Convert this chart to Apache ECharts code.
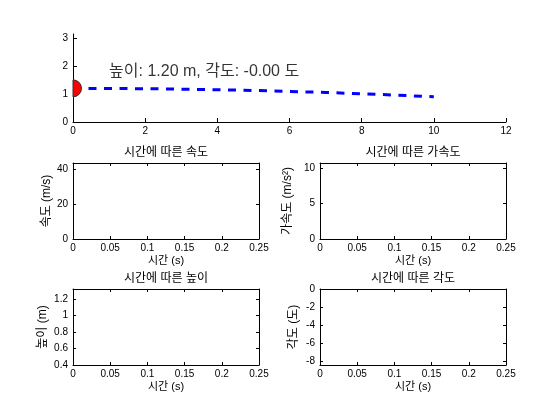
<!DOCTYPE html>
<html>
<head>
<meta charset="utf-8">
<script src="https://cdn.jsdelivr.net/npm/echarts@6/dist/echarts.min.js"></script>
<style>html,body{margin:0;padding:0;background:#fff;}#c{width:560px;height:420px;}</style>
</head>
<body>
<div id="c"></div>
<script>
// ---- data ----
const trajX = [0, 1, 2, 3, 4, 5, 6, 7, 8, 9, 10];
const trajY = [1.20, 1.197, 1.188, 1.173, 1.152, 1.125, 1.092, 1.053, 1.008, 0.957, 0.90];
const ballPos = [0, 1.2];
const infoPos = [1, 1.8];
const heightVal = 1.20;
const angleVal = -0.001;

const topXTicks = [0, 2, 4, 6, 8, 10, 12];
const topYTicks = [0, 1, 2, 3];
const timeTicks = [0, 0.05, 0.1, 0.15, 0.2, 0.25];
const speedTicks = [0, 20, 40];
const accelTicks = [0, 5, 10];
const heightTicks = [0.4, 0.6, 0.8, 1, 1.2];
const angleTicks = [-8, -6, -4, -2, 0];

const titles = ['시간에 따른 속도', '시간에 따른 가속도', '시간에 따른 높이', '시간에 따른 각도'];
const yNames = ['속도 (m/s)', '가속도 (m/s²)', '높이 (m)', '각도 (도)'];
const xName = '시간 (s)';

// ---- layout / style ----
const FONT = "'Liberation Sans', Arial, 'Noto Sans CJK KR', sans-serif";
const grids = [
  {left: 73, top: 34, width: 433, height: 88},
  {left: 73, top: 163, width: 186, height: 76},
  {left: 320, top: 163, width: 186, height: 76},
  {left: 73, top: 289, width: 186, height: 76},
  {left: 320, top: 289, width: 186, height: 76}
];

function axis(dim, g, pos, min, max, ticks, showLabel, name, gap, tickLen) {
  return {
    type: 'value', gridIndex: g, position: pos, min: min, max: max,
    axisLine: {show: true, onZero: false, lineStyle: {color: '#000', width: 1}},
    axisTick: {show: true, inside: true, length: tickLen, customValues: ticks, lineStyle: {color: '#000', width: 1}},
    axisLabel: {show: showLabel, customValues: ticks, margin: dim === 'x' ? 4 : 5, color: '#000', fontSize: 10, fontFamily: FONT},
    splitLine: {show: false},
    name: name || '', nameLocation: 'middle', nameGap: gap || 0,
    nameTextStyle: {color: '#000', fontSize: dim === 'x' ? 11 : 12, fontFamily: FONT}
  };
}

const xAxes = [], yAxes = [];
// top plot (no box)
xAxes.push(axis('x', 0, 'bottom', 0, 12, topXTicks, true, '', 0, 4));
yAxes.push(axis('y', 0, 'left', 0, 3.14, topYTicks, true, '', 0, 4));

const sub = [
  {g: 1, ymin: 0, ymax: 43.8, yt: speedTicks, gap: 20},
  {g: 2, ymin: 0, ymax: 10.7, yt: accelTicks, gap: 26},
  {g: 3, ymin: 0.4, ymax: 1.32, yt: heightTicks, gap: 24},
  {g: 4, ymin: -8.4, ymax: 0, yt: angleTicks, gap: 20}
];
sub.forEach((s, i) => {
  xAxes.push(axis('x', s.g, 'bottom', 0, 0.25, timeTicks, true, xName, 16, 3));
  xAxes.push(axis('x', s.g, 'top', 0, 0.25, timeTicks, false, '', 0, 3));
  yAxes.push(axis('y', s.g, 'left', s.ymin, s.ymax, s.yt, true, yNames[i], s.gap, 3));
  yAxes.push(axis('y', s.g, 'right', s.ymin, s.ymax, s.yt, false, '', 0, 3));
});

const titleOpts = sub.map((s, i) => ({
  text: titles[i],
  left: grids[s.g].left + grids[s.g].width / 2,
  top: grids[s.g].top - 16,
  textAlign: 'center',
  padding: 0,
  textStyle: {fontSize: 12, fontWeight: 'normal', color: '#000', fontFamily: FONT}
}));

const chart = echarts.init(document.getElementById('c'), null, {renderer: 'canvas'});
chart.setOption({
  animation: false,
  backgroundColor: '#fff',
  title: titleOpts,
  grid: grids,
  xAxis: xAxes,
  yAxis: yAxes,
  series: [
    {
      type: 'line', xAxisIndex: 0, yAxisIndex: 0,
      data: trajX.map((x, i) => [x, trajY[i]]),
      showSymbol: false, symbol: 'none',
      lineStyle: {color: '#0000ff', width: 3, type: [8, 7.5]},
      z: 2
    },
    {
      type: 'custom', xAxisIndex: 0, yAxisIndex: 0, clip: false, z: 3,
      data: [ballPos],
      renderItem: function (params, api) {
        const p = api.coord([api.value(0), api.value(1)]);
        return {
          type: 'sector',
          shape: {cx: p[0], cy: p[1], r0: 0, r: 8.5, startAngle: -Math.PI / 2, endAngle: Math.PI / 2, clockwise: true},
          style: {fill: '#ff0000', stroke: '#333', lineWidth: 1}
        };
      }
    },
    {
      type: 'scatter', xAxisIndex: 0, yAxisIndex: 0, symbolSize: 0, z: 4,
      data: [infoPos],
      label: {
        show: true, position: [0, 0], align: 'left', verticalAlign: 'middle',
        fontSize: 16, color: '#000', fontFamily: FONT, textBorderWidth: 0,
        formatter: () => '높이: ' + heightVal.toFixed(2) + ' m, 각도: ' + angleVal.toFixed(2) + ' 도'
      }
    }
  ]
});
</script>
</body>
</html>
